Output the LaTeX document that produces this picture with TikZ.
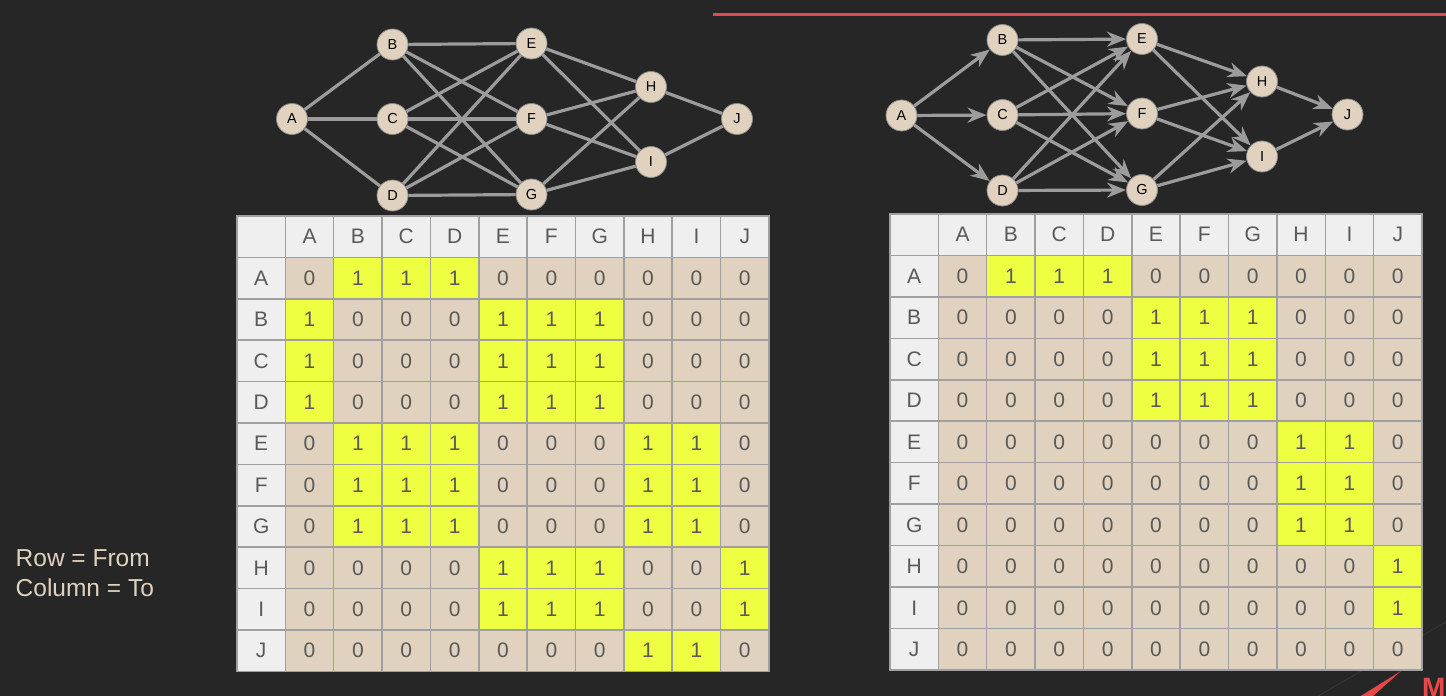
\documentclass[tikz,border=0pt]{standalone}
\usepackage{fontspec}
\setmainfont{Liberation Sans}
\usetikzlibrary{arrows.meta}

\definecolor{bg}{HTML}{262626}
\definecolor{beige}{HTML}{E0D2BE}
\definecolor{hilite}{HTML}{EEFF41}
\definecolor{hdr}{HTML}{EFEFEF}
\definecolor{gridc}{HTML}{A0A0A0}
\definecolor{edgec}{HTML}{9C9C9C}
\definecolor{digit}{HTML}{595959}
\definecolor{redline}{HTML}{E84848}
\definecolor{faint}{HTML}{353535}

\begin{document}
\begin{tikzpicture}[
	x=1pt, y=-1pt,
	vertex/.style={circle, fill=beige, draw=black!45, line width=0.8pt, minimum size=31pt, inner sep=0pt, font=\fontsize{14.5}{14.5}\selectfont},
	link/.style={draw=edgec, line width=3.2pt},
	arc/.style={link, -{Stealth[length=19pt,width=15pt,inset=6pt]}},
	cell/.style={draw=gridc, line width=1.5pt, minimum width=48.36pt, minimum height=41.4pt, inner sep=0pt, text=digit, font=\fontsize{21}{21}\selectfont},
	note/.style={text=beige, anchor=base west, inner sep=0pt, font=\fontsize{24.5}{24.5}\selectfont},
]

\useasboundingbox (0,0) rectangle (1446,696);
\fill [bg] (0,0) rectangle (1446,696);
\clip (0,0) rectangle (1446,696);

%%% CORNER MARK (behind)
\draw [faint, line width=1pt] (1318,696) -- (1446,622);

\begin{scope}[]
%%% UNDIRECTED GRAPH
\node [vertex] (lA) at (292,119) {A};
\node [vertex] (lB) at (392.5,44.5) {B};
\node [vertex] (lC) at (392.5,119) {C};
\node [vertex] (lD) at (392.5,195.5) {D};
\node [vertex] (lE) at (531.5,43.5) {E};
\node [vertex] (lF) at (531.5,119) {F};
\node [vertex] (lG) at (531.5,194.5) {G};
\node [vertex] (lH) at (651,87) {H};
\node [vertex] (lI) at (651,162) {I};
\node [vertex] (lJ) at (737,119) {J};

\foreach \a/\b in {A/B,A/C,A/D,B/E,B/F,B/G,C/E,C/F,C/G,D/E,D/F,D/G,E/H,E/I,F/H,F/I,G/H,G/I,H/J,I/J}
	\draw [link] (l\a) -- (l\b);
\end{scope}

\begin{scope}[]
%%% DIRECTED GRAPH
\draw [redline, line width=3.3pt] (713,14.3) -- (1446,14.3);

\node [vertex] (rA) at (901.5,115.5) {A};
\node [vertex] (rB) at (1002.5,40) {B};
\node [vertex] (rC) at (1002.5,115) {C};
\node [vertex] (rD) at (1002.5,190.5) {D};
\node [vertex] (rE) at (1142,39) {E};
\node [vertex] (rF) at (1142,113.5) {F};
\node [vertex] (rG) at (1142,190) {G};
\node [vertex] (rH) at (1262,81.5) {H};
\node [vertex] (rI) at (1262,156.5) {I};
\node [vertex] (rJ) at (1347.5,114.5) {J};

\foreach \a/\b in {A/B,A/C,A/D,B/E,B/F,B/G,C/E,C/F,C/G,D/E,D/F,D/G,E/H,E/I,F/H,F/I,G/H,G/I,H/J,I/J}
	\draw [arc] (r\a) -- (r\b);
\end{scope}

\begin{scope}[shift={(237,216)}]
%%% LEFT MATRIX
\node [cell, fill=hdr] (L-0-0) at (24.18,20.7) {};
\foreach \l [count=\j] in {A,...,J} {
	\node [cell, fill=hdr] (L-0-\j) at ({(\j+0.5)*48.36},20.7) {\l};
	\node [cell, fill=hdr] (L-\j-0) at (24.18,{(\j+0.5)*41.4}) {\l};
}
\foreach \row [count=\i] in {
	{0,1,1,1,0,0,0,0,0,0},
	{1,0,0,0,1,1,1,0,0,0},
	{1,0,0,0,1,1,1,0,0,0},
	{1,0,0,0,1,1,1,0,0,0},
	{0,1,1,1,0,0,0,1,1,0},
	{0,1,1,1,0,0,0,1,1,0},
	{0,1,1,1,0,0,0,1,1,0},
	{0,0,0,0,1,1,1,0,0,1},
	{0,0,0,0,1,1,1,0,0,1},
	{0,0,0,0,0,0,0,1,1,0}} {
	\foreach \v [count=\j] in \row {
		\ifnum\v=1 \def\cellcol{hilite}\else\def\cellcol{beige}\fi
		\node [cell, fill=\cellcol] (L-\i-\j) at ({(\j+0.5)*48.36},{(\i+0.5)*41.4}) {\v};
	}
}
\end{scope}

\begin{scope}[shift={(890,214)}]
%%% RIGHT MATRIX
\node [cell, fill=hdr] (R-0-0) at (24.18,20.7) {};
\foreach \l [count=\j] in {A,...,J} {
	\node [cell, fill=hdr] (R-0-\j) at ({(\j+0.5)*48.36},20.7) {\l};
	\node [cell, fill=hdr] (R-\j-0) at (24.18,{(\j+0.5)*41.45}) {\l};
}
\foreach \row [count=\i] in {
	{0,1,1,1,0,0,0,0,0,0},
	{0,0,0,0,1,1,1,0,0,0},
	{0,0,0,0,1,1,1,0,0,0},
	{0,0,0,0,1,1,1,0,0,0},
	{0,0,0,0,0,0,0,1,1,0},
	{0,0,0,0,0,0,0,1,1,0},
	{0,0,0,0,0,0,0,1,1,0},
	{0,0,0,0,0,0,0,0,0,1},
	{0,0,0,0,0,0,0,0,0,1},
	{0,0,0,0,0,0,0,0,0,0}} {
	\foreach \v [count=\j] in \row {
		\ifnum\v=1 \def\cellcol{hilite}\else\def\cellcol{beige}\fi
		\node [cell, fill=\cellcol] (R-\i-\j) at ({(\j+0.5)*48.36},{(\i+0.5)*41.45}) {\v};
	}
}
\end{scope}

%%% LEGEND
\node [note] (rowfrom) at (15.5,566.5) {Row = From};
\node [note] (colto) at (15.5,596) {Column = To};

%%% CORNER MARK
\fill [redline] (1359,697) -- (1372,697) -- (1401,671) -- cycle;
\node [text=redline, anchor=base west, inner sep=0pt, font=\bfseries\fontsize{28}{28}\selectfont] (logo) at (1422,697) {M};

\end{tikzpicture}
\end{document}
